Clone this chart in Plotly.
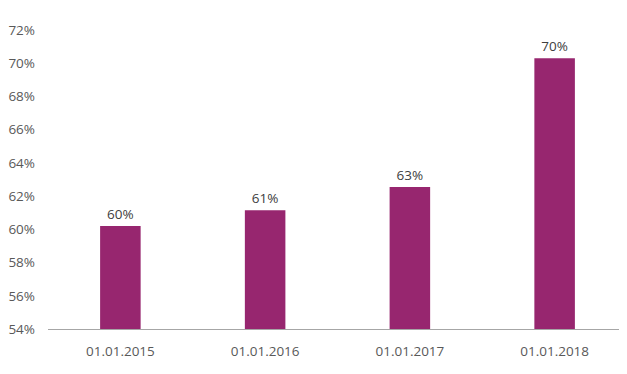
import plotly.graph_objects as go

categories = ["01.01.2015", "01.01.2016", "01.01.2017", "01.01.2018"]
values = [60.2, 61.15, 62.55, 70.3]
labels = ["60%", "61%", "63%", "70%"]
y_ticks = [54, 56, 58, 60, 62, 64, 66, 68, 70, 72]
y_tick_text = [f"{v}%" for v in y_ticks]

font_family = "Open Sans, Noto Sans, sans-serif"

fig = go.Figure(
    go.Bar(
        x=categories,
        y=values,
        text=labels,
        textposition="outside",
        textfont=dict(family=font_family, size=13.5, color="#404040"),
        marker=dict(color="#97266F", line=dict(width=0)),
        cliponaxis=False,
        hoverinfo="skip",
    )
)

# page body has an 8px default margin, so the figure is sized to fit
fig.update_layout(
    width=619,
    height=366,
    margin=dict(l=40, r=0, t=22, b=45),
    paper_bgcolor="white",
    plot_bgcolor="white",
    bargap=0.72,
    showlegend=False,
    font=dict(family=font_family, size=13.5, color="#595959"),
)

fig.update_xaxes(
    automargin=False,
    showline=True,
    linecolor="#A6A6A6",
    linewidth=1,
    showgrid=False,
    ticks="",
    ticklabelstandoff=10,
    tickfont=dict(family=font_family, size=13.5, color="#595959"),
)

fig.update_yaxes(
    automargin=False,
    range=[54, 72],
    tickmode="array",
    tickvals=y_ticks,
    ticktext=y_tick_text,
    showgrid=False,
    zeroline=False,
    showline=False,
    ticks="",
    ticklabelstandoff=12,
    tickfont=dict(family=font_family, size=13.5, color="#595959"),
)

fig.write_html("out.html")
